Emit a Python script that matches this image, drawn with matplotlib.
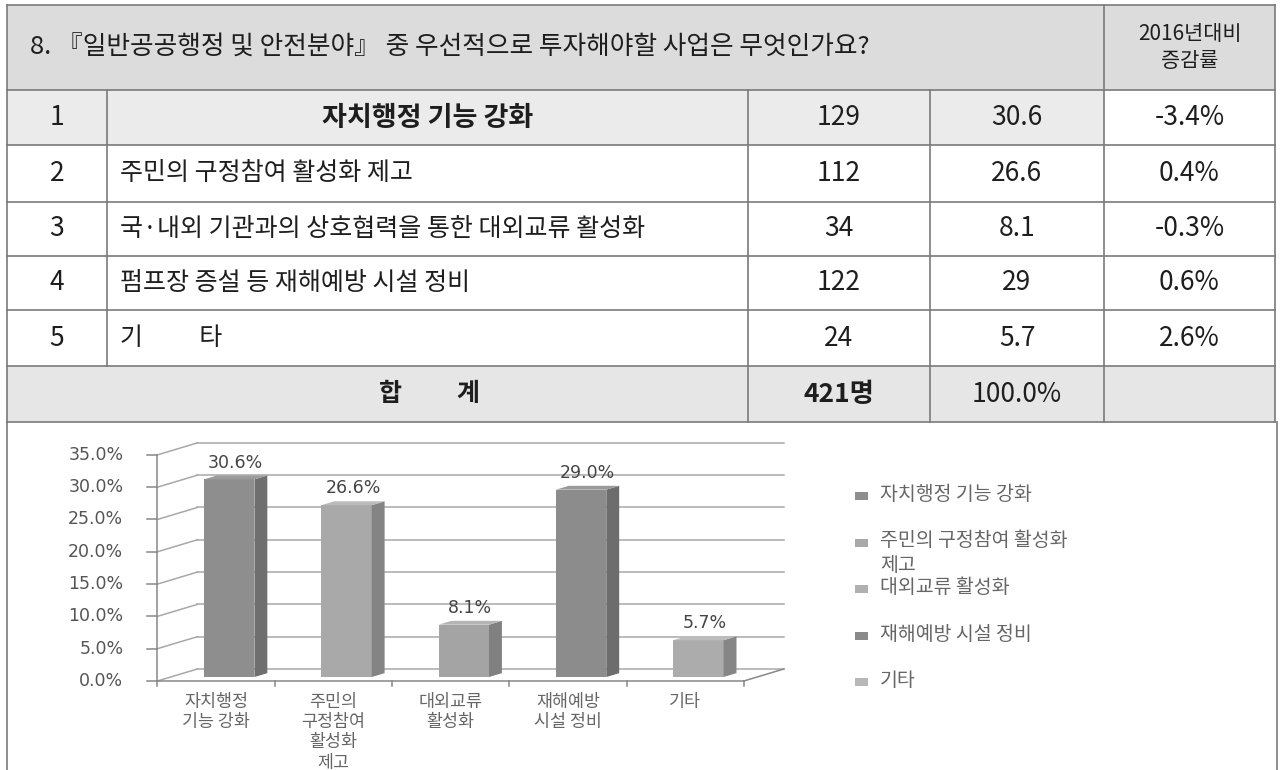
import matplotlib
matplotlib.use("Agg")
import matplotlib.pyplot as plt
from matplotlib.patches import Polygon, Rectangle
import matplotlib.colors as mcolors
import numpy as np

plt.rcParams['font.family'] = ['Noto Sans CJK KR', 'DejaVu Sans']

# ---- data ----
title = "8. 『일반공공행정 및 안전분야』 중 우선적으로 투자해야할 사업은 무엇인가요?"
change_header = "2016년대비\n증감률"
ranks = ["1", "2", "3", "4", "5"]
items = ["자치행정 기능 강화", "주민의 구정참여 활성화 제고",
         "국·내외 기관과의 상호협력을 통한 대외교류 활성화",
         "펌프장 증설 등 재해예방 시설 정비", "기          타"]
counts = [129, 112, 34, 122, 24]
pcts = [30.6, 26.6, 8.1, 29, 5.7]
changes = ["-3.4%", "0.4%", "-0.3%", "0.6%", "2.6%"]
total_label = ["합", "계"]
total_count = "421명"
total_pct = "100.0%"

short_labels = ["자치행정\n기능 강화", "주민의\n구정참여\n활성화\n제고", "대외교류\n활성화",
                "재해예방\n시설 정비", "기타"]
legend_labels = ["자치행정 기능 강화", "주민의 구정참여 활성화\n제고", "대외교류 활성화",
                 "재해예방 시설 정비", "기타"]
y_ticks = [0, 5, 10, 15, 20, 25, 30, 35]

bar_colors = ["#8e8e8e", "#a9a9a9", "#a4a4a4", "#8c8c8c", "#acacac"]
legend_colors = ["#8e8e8e", "#a9a9a9", "#b0b0b0", "#8a8a8a", "#b8b8b8"]

fig = plt.figure(figsize=(12.82, 7.70), dpi=100)
bg = fig.add_axes([0, 0, 1, 1])
bg.set_xlim(0, 1282); bg.set_ylim(770, 0); bg.axis("off")

# ---- table ----
cols = [7, 107, 748, 930, 1104, 1275]
rows = [5, 90, 145, 202, 256, 310, 366, 422]
lc = "#7a7a7a"
bg.add_patch(Rectangle((cols[0], rows[0]), cols[-1]-cols[0], rows[1]-rows[0], fc="#dcdcdc", ec="none"))
bg.add_patch(Rectangle((cols[0], rows[1]), cols[4]-cols[0], rows[2]-rows[1], fc="#ebebeb", ec="none"))
bg.add_patch(Rectangle((cols[0], rows[6]), cols[-1]-cols[0], rows[7]-rows[6], fc="#e6e6e6", ec="none"))
for y in rows:
    bg.plot([cols[0], cols[-1]], [y, y], color=lc, lw=1.2)
for x in [cols[0], cols[-1]]:
    bg.plot([x, x], [rows[0], rows[-1]], color=lc, lw=1.2)
bg.plot([cols[4], cols[4]], [rows[0], rows[-1]], color=lc, lw=1.2)
bg.plot([cols[1], cols[1]], [rows[1], rows[6]], color=lc, lw=1.2)
for x in [cols[2], cols[3]]:
    bg.plot([x, x], [rows[1], rows[-1]], color=lc, lw=1.2)

tc = "#1e1e1e"
bg.text(30, (rows[0]+rows[1])/2, title, fontsize=18.5, va="center", ha="left", color=tc)
bg.text((cols[4]+cols[5])/2, (rows[0]+rows[1])/2, change_header, fontsize=15, ha="center",
        va="center", color=tc, linespacing=1.35)
for i in range(len(ranks)):
    yc = (rows[i+1]+rows[i+2])/2
    bg.text((cols[0]+cols[1])/2, yc, ranks[i], fontsize=19, ha="center", va="center", color=tc)
    if i == 0:
        bg.text((cols[1]+cols[2])/2, yc, items[i], fontsize=19.5, ha="center", va="center",
                color=tc, fontweight="bold")
    else:
        bg.text(cols[1]+13, yc, items[i], fontsize=18, ha="left", va="center", color=tc)
    bg.text((cols[2]+cols[3])/2, yc, str(counts[i]), fontsize=19, ha="center", va="center", color=tc)
    bg.text((cols[3]+cols[4])/2, yc, f"{pcts[i]:g}", fontsize=19, ha="center", va="center", color=tc)
    bg.text((cols[4]+cols[5])/2, yc, changes[i], fontsize=19, ha="center", va="center", color=tc)
yt = (rows[6]+rows[7])/2
bg.text(390, yt, total_label[0], fontsize=18, ha="center", va="center", color=tc, fontweight="bold")
bg.text(468, yt, total_label[1], fontsize=18, ha="center", va="center", color=tc, fontweight="bold")
bg.text((cols[2]+cols[3])/2, yt, total_count, fontsize=19, ha="center", va="center", color=tc, fontweight="bold")
bg.text((cols[3]+cols[4])/2, yt, total_pct, fontsize=19, ha="center", va="center", color=tc)

# chart frame
bg.plot([7, 7], [422, 770], color=lc, lw=1.2)
bg.plot([1277, 1277], [422, 770], color=lc, lw=1.2)

# ---- legend (manual) ----
for i, (lab, c) in enumerate(zip(legend_labels, legend_colors)):
    y = 496 + 46.5*i
    bg.add_patch(Rectangle((855, y-4), 13, 8, fc=c, ec="none"))
    bg.text(880, y-12, lab, fontsize=14, ha="left", va="top", color="#666666", linespacing=1.2)

# ---- 3D-ish bar chart ----
ax = fig.add_axes([140/1282, 70/770, 660/1282, 270/770])
ax.set_xlim(-0.648, 4.979)
ax.set_ylim(-2.941, 38.854)
ax.axis("off")

n = len(pcts)
x0, x1 = -0.5, n - 0.5
dx, dy = 0.341, 1.86
gc = "#a8a8a8"
for v in y_ticks:
    ax.plot([x0+dx, x1+dx], [v+dy, v+dy], color=gc, lw=1.1, zorder=1)
    ax.plot([x0, x0+dx], [v, v+dy], color=gc, lw=1.1, zorder=1)
    ax.plot([x0-0.085, x0], [v, v], color="#888888", lw=1.1, zorder=1)
    ax.text(x0-0.29, v, f"{v:.1f}%", ha="right", va="center", fontsize=12.5,
            color="#555555", family="DejaVu Sans")
ax.plot([x0, x0], [0, y_ticks[-1]], color="#888888", lw=1.1, zorder=1)
ax.plot([x0, x1], [0, 0], color="#888888", lw=1.1, zorder=2)
ax.plot([x1, x1+dx], [0, dy], color="#888888", lw=1.1, zorder=2)
for b in np.arange(n+1) - 0.5:
    ax.plot([b, b], [0, -0.8], color="#888888", lw=1.1, zorder=2)

f = 0.33
w, sdx, sdy = 0.43, 0.11, 0.6
xc = np.arange(n) + f*dx
base = f*dy
ax.bar(xc, pcts, width=w, bottom=base, color=bar_colors, edgecolor="none", zorder=3)
for xi, v, c in zip(xc, pcts, bar_colors):
    rgb = np.array(mcolors.to_rgb(c))
    side = Polygon([(xi+w/2, base), (xi+w/2+sdx, base+sdy), (xi+w/2+sdx, base+v+sdy), (xi+w/2, base+v)],
                   closed=True, fc=rgb*0.78, ec="none", zorder=3)
    top = Polygon([(xi-w/2, base+v), (xi+w/2, base+v), (xi+w/2+sdx, base+v+sdy), (xi-w/2+sdx, base+v+sdy)],
                  closed=True, fc=np.minimum(rgb*1.1, 1), ec="none", zorder=3)
    ax.add_patch(side); ax.add_patch(top)
    ax.text(xi+sdx/2, base+v+sdy+0.6, f"{v:.1f}%", ha="center", va="bottom", fontsize=12.5,
            color="#444444", family="DejaVu Sans", zorder=4)

for i, lab in enumerate(short_labels):
    ax.text(i, -1.9, lab, ha="center", va="top", fontsize=12.5, color="#666666", linespacing=1.15)

fig.savefig("out.png", dpi=100)
